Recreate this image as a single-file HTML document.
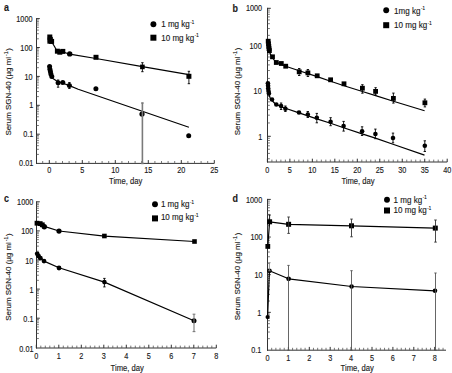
<!DOCTYPE html>
<html><head><meta charset="utf-8"><style>
html,body{margin:0;padding:0;background:#fff;}
svg{display:block;}
text{font-family:"Liberation Sans", sans-serif;fill:#1a1a1a;stroke:#1a1a1a;stroke-width:0.14px;}
</style></head><body>
<svg width="452" height="373" viewBox="0 0 452 373">
<rect width="452" height="373" fill="#fff"/>
<line x1="36.5" y1="18.1" x2="36.5" y2="163.9" stroke="#333" stroke-width="1"/>
<line x1="36.5" y1="18.6" x2="39.8" y2="18.6" stroke="#333" stroke-width="1"/>
<line x1="36.5" y1="47.5" x2="39.8" y2="47.5" stroke="#333" stroke-width="1"/>
<line x1="36.5" y1="76.4" x2="39.8" y2="76.4" stroke="#333" stroke-width="1"/>
<line x1="36.5" y1="105.29999999999998" x2="39.8" y2="105.29999999999998" stroke="#333" stroke-width="1"/>
<line x1="36.5" y1="134.2" x2="39.8" y2="134.2" stroke="#333" stroke-width="1"/>
<line x1="36.5" y1="154.40" x2="38.9" y2="154.40" stroke="#555" stroke-width="0.8"/>
<line x1="36.5" y1="149.31" x2="38.9" y2="149.31" stroke="#555" stroke-width="0.8"/>
<line x1="36.5" y1="145.70" x2="38.9" y2="145.70" stroke="#555" stroke-width="0.8"/>
<line x1="36.5" y1="142.90" x2="38.9" y2="142.90" stroke="#555" stroke-width="0.8"/>
<line x1="36.5" y1="140.61" x2="38.9" y2="140.61" stroke="#555" stroke-width="0.8"/>
<line x1="36.5" y1="138.68" x2="38.9" y2="138.68" stroke="#555" stroke-width="0.8"/>
<line x1="36.5" y1="137.00" x2="38.9" y2="137.00" stroke="#555" stroke-width="0.8"/>
<line x1="36.5" y1="135.52" x2="38.9" y2="135.52" stroke="#555" stroke-width="0.8"/>
<line x1="36.5" y1="125.50" x2="38.9" y2="125.50" stroke="#555" stroke-width="0.8"/>
<line x1="36.5" y1="120.41" x2="38.9" y2="120.41" stroke="#555" stroke-width="0.8"/>
<line x1="36.5" y1="116.80" x2="38.9" y2="116.80" stroke="#555" stroke-width="0.8"/>
<line x1="36.5" y1="114.00" x2="38.9" y2="114.00" stroke="#555" stroke-width="0.8"/>
<line x1="36.5" y1="111.71" x2="38.9" y2="111.71" stroke="#555" stroke-width="0.8"/>
<line x1="36.5" y1="109.78" x2="38.9" y2="109.78" stroke="#555" stroke-width="0.8"/>
<line x1="36.5" y1="108.10" x2="38.9" y2="108.10" stroke="#555" stroke-width="0.8"/>
<line x1="36.5" y1="106.62" x2="38.9" y2="106.62" stroke="#555" stroke-width="0.8"/>
<line x1="36.5" y1="96.60" x2="38.9" y2="96.60" stroke="#555" stroke-width="0.8"/>
<line x1="36.5" y1="91.51" x2="38.9" y2="91.51" stroke="#555" stroke-width="0.8"/>
<line x1="36.5" y1="87.90" x2="38.9" y2="87.90" stroke="#555" stroke-width="0.8"/>
<line x1="36.5" y1="85.10" x2="38.9" y2="85.10" stroke="#555" stroke-width="0.8"/>
<line x1="36.5" y1="82.81" x2="38.9" y2="82.81" stroke="#555" stroke-width="0.8"/>
<line x1="36.5" y1="80.88" x2="38.9" y2="80.88" stroke="#555" stroke-width="0.8"/>
<line x1="36.5" y1="79.20" x2="38.9" y2="79.20" stroke="#555" stroke-width="0.8"/>
<line x1="36.5" y1="77.72" x2="38.9" y2="77.72" stroke="#555" stroke-width="0.8"/>
<line x1="36.5" y1="67.70" x2="38.9" y2="67.70" stroke="#555" stroke-width="0.8"/>
<line x1="36.5" y1="62.61" x2="38.9" y2="62.61" stroke="#555" stroke-width="0.8"/>
<line x1="36.5" y1="59.00" x2="38.9" y2="59.00" stroke="#555" stroke-width="0.8"/>
<line x1="36.5" y1="56.20" x2="38.9" y2="56.20" stroke="#555" stroke-width="0.8"/>
<line x1="36.5" y1="53.91" x2="38.9" y2="53.91" stroke="#555" stroke-width="0.8"/>
<line x1="36.5" y1="51.98" x2="38.9" y2="51.98" stroke="#555" stroke-width="0.8"/>
<line x1="36.5" y1="50.30" x2="38.9" y2="50.30" stroke="#555" stroke-width="0.8"/>
<line x1="36.5" y1="48.82" x2="38.9" y2="48.82" stroke="#555" stroke-width="0.8"/>
<line x1="36.5" y1="38.80" x2="38.9" y2="38.80" stroke="#555" stroke-width="0.8"/>
<line x1="36.5" y1="33.71" x2="38.9" y2="33.71" stroke="#555" stroke-width="0.8"/>
<line x1="36.5" y1="30.10" x2="38.9" y2="30.10" stroke="#555" stroke-width="0.8"/>
<line x1="36.5" y1="27.30" x2="38.9" y2="27.30" stroke="#555" stroke-width="0.8"/>
<line x1="36.5" y1="25.01" x2="38.9" y2="25.01" stroke="#555" stroke-width="0.8"/>
<line x1="36.5" y1="23.08" x2="38.9" y2="23.08" stroke="#555" stroke-width="0.8"/>
<line x1="36.5" y1="21.40" x2="38.9" y2="21.40" stroke="#555" stroke-width="0.8"/>
<line x1="36.5" y1="19.92" x2="38.9" y2="19.92" stroke="#555" stroke-width="0.8"/>
<text transform="translate(32.5,21.75) scale(0.89,1)" text-anchor="end" font-size="8.2">1000</text>
<text transform="translate(32.5,50.65) scale(0.89,1)" text-anchor="end" font-size="8.2">100</text>
<text transform="translate(32.5,79.55) scale(0.89,1)" text-anchor="end" font-size="8.2">10</text>
<text transform="translate(33.3,108.45) scale(0.89,1)" text-anchor="end" font-size="8.2">1</text>
<text transform="translate(33.3,137.35) scale(0.89,1)" text-anchor="end" font-size="8.2">0.1</text>
<text transform="translate(33.3,166.25) scale(0.89,1)" text-anchor="end" font-size="8.2">0.01</text>
<line x1="36.0" y1="163.4" x2="214.3" y2="163.4" stroke="#333" stroke-width="1"/>
<line x1="49.30" y1="163.4" x2="49.30" y2="160.1" stroke="#333" stroke-width="1"/>
<line x1="82.30" y1="163.4" x2="82.30" y2="160.1" stroke="#333" stroke-width="1"/>
<line x1="115.30" y1="163.4" x2="115.30" y2="160.1" stroke="#333" stroke-width="1"/>
<line x1="148.30" y1="163.4" x2="148.30" y2="160.1" stroke="#333" stroke-width="1"/>
<line x1="181.30" y1="163.4" x2="181.30" y2="160.1" stroke="#333" stroke-width="1"/>
<line x1="214.30" y1="163.4" x2="214.30" y2="160.1" stroke="#333" stroke-width="1"/>
<line x1="42.70" y1="163.4" x2="42.70" y2="161.0" stroke="#555" stroke-width="0.8"/>
<line x1="55.90" y1="163.4" x2="55.90" y2="161.0" stroke="#555" stroke-width="0.8"/>
<line x1="62.50" y1="163.4" x2="62.50" y2="161.0" stroke="#555" stroke-width="0.8"/>
<line x1="69.10" y1="163.4" x2="69.10" y2="161.0" stroke="#555" stroke-width="0.8"/>
<line x1="75.70" y1="163.4" x2="75.70" y2="161.0" stroke="#555" stroke-width="0.8"/>
<line x1="88.90" y1="163.4" x2="88.90" y2="161.0" stroke="#555" stroke-width="0.8"/>
<line x1="95.50" y1="163.4" x2="95.50" y2="161.0" stroke="#555" stroke-width="0.8"/>
<line x1="102.10" y1="163.4" x2="102.10" y2="161.0" stroke="#555" stroke-width="0.8"/>
<line x1="108.70" y1="163.4" x2="108.70" y2="161.0" stroke="#555" stroke-width="0.8"/>
<line x1="121.90" y1="163.4" x2="121.90" y2="161.0" stroke="#555" stroke-width="0.8"/>
<line x1="128.50" y1="163.4" x2="128.50" y2="161.0" stroke="#555" stroke-width="0.8"/>
<line x1="135.10" y1="163.4" x2="135.10" y2="161.0" stroke="#555" stroke-width="0.8"/>
<line x1="141.70" y1="163.4" x2="141.70" y2="161.0" stroke="#555" stroke-width="0.8"/>
<line x1="154.90" y1="163.4" x2="154.90" y2="161.0" stroke="#555" stroke-width="0.8"/>
<line x1="161.50" y1="163.4" x2="161.50" y2="161.0" stroke="#555" stroke-width="0.8"/>
<line x1="168.10" y1="163.4" x2="168.10" y2="161.0" stroke="#555" stroke-width="0.8"/>
<line x1="174.70" y1="163.4" x2="174.70" y2="161.0" stroke="#555" stroke-width="0.8"/>
<line x1="187.90" y1="163.4" x2="187.90" y2="161.0" stroke="#555" stroke-width="0.8"/>
<line x1="194.50" y1="163.4" x2="194.50" y2="161.0" stroke="#555" stroke-width="0.8"/>
<line x1="201.10" y1="163.4" x2="201.10" y2="161.0" stroke="#555" stroke-width="0.8"/>
<line x1="207.70" y1="163.4" x2="207.70" y2="161.0" stroke="#555" stroke-width="0.8"/>
<text transform="translate(49.30,172.6) scale(0.89,1)" text-anchor="middle" font-size="8.2">0</text>
<text transform="translate(82.30,172.6) scale(0.89,1)" text-anchor="middle" font-size="8.2">5</text>
<text transform="translate(115.30,172.6) scale(0.89,1)" text-anchor="middle" font-size="8.2">10</text>
<text transform="translate(148.30,172.6) scale(0.89,1)" text-anchor="middle" font-size="8.2">15</text>
<text transform="translate(181.30,172.6) scale(0.89,1)" text-anchor="middle" font-size="8.2">20</text>
<text transform="translate(214.30,172.6) scale(0.89,1)" text-anchor="middle" font-size="8.2">25</text>
<text transform="translate(4.0,11.1) scale(0.86,1)" font-size="10.4" font-weight="bold">a</text>
<text transform="translate(11.0,135.6) rotate(-90) scale(1,0.92)" font-size="7.95">Serum SGN-40 (µg ml<tspan font-size="5.2" dx="0.9" dy="-3.4">-1</tspan><tspan dx="0.7" dy="3.4">)</tspan></text>
<text transform="translate(109,184.0) scale(0.91,1)" font-size="8.4">Time, day</text>
<circle cx="153.4" cy="24.3" r="2.95" fill="#000"/>
<rect x="150.40" y="34.70" width="6.0" height="6.0" fill="#000"/>
<text transform="translate(161.2,27.3) scale(0.915,1)" font-size="8.8">1 mg kg<tspan font-size="4.8" dx="0.6" dy="-3.4">-1</tspan></text>
<text transform="translate(161.2,40.5) scale(0.915,1)" font-size="8.8">10 mg kg<tspan font-size="4.8" dx="0.6" dy="-3.4">-1</tspan></text>
<polyline points="50.00,37.00 51.50,41.50 54.50,46.50 57.00,51.00 60.00,52.00 64.00,52.30 69.70,54.20 96.00,58.50 142.40,66.60 188.90,74.60" fill="none" stroke="#000" stroke-width="1.2" stroke-linejoin="round"/>
<rect x="47.30" y="34.50" width="5" height="5" fill="#000"/>
<rect x="47.80" y="36.90" width="5" height="5" fill="#000"/>
<rect x="47.40" y="38.70" width="5" height="5" fill="#000"/>
<rect x="49.10" y="38.90" width="5" height="5" fill="#000"/>
<rect x="54.90" y="48.70" width="5" height="5" fill="#000"/>
<rect x="57.30" y="49.70" width="5" height="5" fill="#000"/>
<rect x="60.30" y="48.90" width="5" height="5" fill="#000"/>
<rect x="93.50" y="54.80" width="5" height="5" fill="#000"/>
<rect x="186.40" y="73.80" width="5" height="5" fill="#000"/>
<circle cx="69.7" cy="53.9" r="2.7" fill="#000"/>
<rect x="140.10" y="64.60" width="4.6" height="4.6" fill="#000"/>
<line x1="142.4" y1="62.7" x2="142.4" y2="71.7" stroke="#000" stroke-width="0.9"/>
<line x1="141.20000000000002" y1="62.7" x2="143.6" y2="62.7" stroke="#000" stroke-width="0.9"/>
<line x1="141.20000000000002" y1="71.7" x2="143.6" y2="71.7" stroke="#000" stroke-width="0.9"/>
<line x1="188.9" y1="71.3" x2="188.9" y2="83.7" stroke="#000" stroke-width="0.9"/>
<line x1="187.70000000000002" y1="71.3" x2="190.1" y2="71.3" stroke="#000" stroke-width="0.9"/>
<line x1="187.70000000000002" y1="83.7" x2="190.1" y2="83.7" stroke="#000" stroke-width="0.9"/>
<polyline points="49.50,66.00 50.00,70.00 51.00,74.50 52.50,78.30 56.00,80.50 60.00,82.30 63.00,83.20 69.40,85.60 78.20,89.20 188.90,127.20" fill="none" stroke="#000" stroke-width="1.2" stroke-linejoin="round"/>
<circle cx="49.6" cy="66.6" r="2.5" fill="#000"/>
<circle cx="49.9" cy="69.2" r="2.5" fill="#000"/>
<circle cx="50.4" cy="71.6" r="2.5" fill="#000"/>
<circle cx="50.9" cy="74" r="2.5" fill="#000"/>
<circle cx="51.8" cy="76.4" r="2.5" fill="#000"/>
<circle cx="58.1" cy="82.7" r="2.5" fill="#000"/>
<circle cx="62.8" cy="82.5" r="2.5" fill="#000"/>
<circle cx="69.4" cy="85.6" r="2.5" fill="#000"/>
<circle cx="95.9" cy="88.7" r="2.5" fill="#000"/>
<circle cx="188.7" cy="135.8" r="2.5" fill="#000"/>
<line x1="58.1" y1="80" x2="58.1" y2="87.2" stroke="#000" stroke-width="0.9"/>
<line x1="56.9" y1="80" x2="59.300000000000004" y2="80" stroke="#000" stroke-width="0.9"/>
<line x1="56.9" y1="87.2" x2="59.300000000000004" y2="87.2" stroke="#000" stroke-width="0.9"/>
<line x1="69.4" y1="82.5" x2="69.4" y2="88.5" stroke="#000" stroke-width="0.9"/>
<line x1="68.2" y1="82.5" x2="70.60000000000001" y2="82.5" stroke="#000" stroke-width="0.9"/>
<line x1="68.2" y1="88.5" x2="70.60000000000001" y2="88.5" stroke="#000" stroke-width="0.9"/>
<circle cx="142" cy="114.1" r="2.6" fill="#000"/>
<line x1="142.4" y1="103" x2="142.4" y2="163.4" stroke="#7a7a7a" stroke-width="1.6"/>
<line x1="141.20000000000002" y1="103" x2="143.6" y2="103" stroke="#7a7a7a" stroke-width="1.6"/>
<line x1="141.20000000000002" y1="163.4" x2="143.6" y2="163.4" stroke="#7a7a7a" stroke-width="1.6"/>
<line x1="267.5" y1="7.800000000000001" x2="267.5" y2="162.5" stroke="#333" stroke-width="1"/>
<line x1="267.5" y1="8.3" x2="270.8" y2="8.3" stroke="#333" stroke-width="1"/>
<line x1="267.5" y1="47.0" x2="270.8" y2="47.0" stroke="#333" stroke-width="1"/>
<line x1="267.5" y1="92.0" x2="270.8" y2="92.0" stroke="#333" stroke-width="1"/>
<line x1="267.5" y1="136.3" x2="270.8" y2="136.3" stroke="#333" stroke-width="1"/>
<line x1="267.5" y1="158.78" x2="269.9" y2="158.78" stroke="#555" stroke-width="0.8"/>
<line x1="267.5" y1="153.41" x2="269.9" y2="153.41" stroke="#555" stroke-width="0.8"/>
<line x1="267.5" y1="149.24" x2="269.9" y2="149.24" stroke="#555" stroke-width="0.8"/>
<line x1="267.5" y1="145.84" x2="269.9" y2="145.84" stroke="#555" stroke-width="0.8"/>
<line x1="267.5" y1="142.96" x2="269.9" y2="142.96" stroke="#555" stroke-width="0.8"/>
<line x1="267.5" y1="140.47" x2="269.9" y2="140.47" stroke="#555" stroke-width="0.8"/>
<line x1="267.5" y1="138.27" x2="269.9" y2="138.27" stroke="#555" stroke-width="0.8"/>
<line x1="267.5" y1="122.96" x2="269.9" y2="122.96" stroke="#555" stroke-width="0.8"/>
<line x1="267.5" y1="115.16" x2="269.9" y2="115.16" stroke="#555" stroke-width="0.8"/>
<line x1="267.5" y1="109.63" x2="269.9" y2="109.63" stroke="#555" stroke-width="0.8"/>
<line x1="267.5" y1="105.34" x2="269.9" y2="105.34" stroke="#555" stroke-width="0.8"/>
<line x1="267.5" y1="101.83" x2="269.9" y2="101.83" stroke="#555" stroke-width="0.8"/>
<line x1="267.5" y1="98.86" x2="269.9" y2="98.86" stroke="#555" stroke-width="0.8"/>
<line x1="267.5" y1="96.29" x2="269.9" y2="96.29" stroke="#555" stroke-width="0.8"/>
<line x1="267.5" y1="94.03" x2="269.9" y2="94.03" stroke="#555" stroke-width="0.8"/>
<line x1="267.5" y1="78.45" x2="269.9" y2="78.45" stroke="#555" stroke-width="0.8"/>
<line x1="267.5" y1="70.53" x2="269.9" y2="70.53" stroke="#555" stroke-width="0.8"/>
<line x1="267.5" y1="64.91" x2="269.9" y2="64.91" stroke="#555" stroke-width="0.8"/>
<line x1="267.5" y1="60.55" x2="269.9" y2="60.55" stroke="#555" stroke-width="0.8"/>
<line x1="267.5" y1="56.98" x2="269.9" y2="56.98" stroke="#555" stroke-width="0.8"/>
<line x1="267.5" y1="53.97" x2="269.9" y2="53.97" stroke="#555" stroke-width="0.8"/>
<line x1="267.5" y1="51.36" x2="269.9" y2="51.36" stroke="#555" stroke-width="0.8"/>
<line x1="267.5" y1="49.06" x2="269.9" y2="49.06" stroke="#555" stroke-width="0.8"/>
<line x1="267.5" y1="35.35" x2="269.9" y2="35.35" stroke="#555" stroke-width="0.8"/>
<line x1="267.5" y1="28.54" x2="269.9" y2="28.54" stroke="#555" stroke-width="0.8"/>
<line x1="267.5" y1="23.70" x2="269.9" y2="23.70" stroke="#555" stroke-width="0.8"/>
<line x1="267.5" y1="19.95" x2="269.9" y2="19.95" stroke="#555" stroke-width="0.8"/>
<line x1="267.5" y1="16.89" x2="269.9" y2="16.89" stroke="#555" stroke-width="0.8"/>
<line x1="267.5" y1="14.29" x2="269.9" y2="14.29" stroke="#555" stroke-width="0.8"/>
<line x1="267.5" y1="12.05" x2="269.9" y2="12.05" stroke="#555" stroke-width="0.8"/>
<line x1="267.5" y1="10.07" x2="269.9" y2="10.07" stroke="#555" stroke-width="0.8"/>
<text transform="translate(262.09999999999997,11.45) scale(0.89,1)" text-anchor="end" font-size="8.2">1000</text>
<text transform="translate(261.7,48.65) scale(0.89,1)" text-anchor="end" font-size="8.2">100</text>
<text transform="translate(261.7,93.65) scale(0.89,1)" text-anchor="end" font-size="8.2">10</text>
<text transform="translate(262.4,139.55) scale(0.89,1)" text-anchor="end" font-size="8.2">1</text>
<line x1="267.0" y1="162.0" x2="447.2" y2="162.0" stroke="#333" stroke-width="1"/>
<line x1="267.40" y1="162.0" x2="267.40" y2="158.7" stroke="#333" stroke-width="1"/>
<line x1="289.88" y1="162.0" x2="289.88" y2="158.7" stroke="#333" stroke-width="1"/>
<line x1="312.35" y1="162.0" x2="312.35" y2="158.7" stroke="#333" stroke-width="1"/>
<line x1="334.82" y1="162.0" x2="334.82" y2="158.7" stroke="#333" stroke-width="1"/>
<line x1="357.30" y1="162.0" x2="357.30" y2="158.7" stroke="#333" stroke-width="1"/>
<line x1="379.77" y1="162.0" x2="379.77" y2="158.7" stroke="#333" stroke-width="1"/>
<line x1="402.25" y1="162.0" x2="402.25" y2="158.7" stroke="#333" stroke-width="1"/>
<line x1="424.73" y1="162.0" x2="424.73" y2="158.7" stroke="#333" stroke-width="1"/>
<line x1="447.20" y1="162.0" x2="447.20" y2="158.7" stroke="#333" stroke-width="1"/>
<line x1="271.89" y1="162.0" x2="271.89" y2="159.6" stroke="#555" stroke-width="0.8"/>
<line x1="276.39" y1="162.0" x2="276.39" y2="159.6" stroke="#555" stroke-width="0.8"/>
<line x1="280.88" y1="162.0" x2="280.88" y2="159.6" stroke="#555" stroke-width="0.8"/>
<line x1="285.38" y1="162.0" x2="285.38" y2="159.6" stroke="#555" stroke-width="0.8"/>
<line x1="294.37" y1="162.0" x2="294.37" y2="159.6" stroke="#555" stroke-width="0.8"/>
<line x1="298.86" y1="162.0" x2="298.86" y2="159.6" stroke="#555" stroke-width="0.8"/>
<line x1="303.36" y1="162.0" x2="303.36" y2="159.6" stroke="#555" stroke-width="0.8"/>
<line x1="307.85" y1="162.0" x2="307.85" y2="159.6" stroke="#555" stroke-width="0.8"/>
<line x1="316.84" y1="162.0" x2="316.84" y2="159.6" stroke="#555" stroke-width="0.8"/>
<line x1="321.34" y1="162.0" x2="321.34" y2="159.6" stroke="#555" stroke-width="0.8"/>
<line x1="325.83" y1="162.0" x2="325.83" y2="159.6" stroke="#555" stroke-width="0.8"/>
<line x1="330.33" y1="162.0" x2="330.33" y2="159.6" stroke="#555" stroke-width="0.8"/>
<line x1="339.32" y1="162.0" x2="339.32" y2="159.6" stroke="#555" stroke-width="0.8"/>
<line x1="343.81" y1="162.0" x2="343.81" y2="159.6" stroke="#555" stroke-width="0.8"/>
<line x1="348.31" y1="162.0" x2="348.31" y2="159.6" stroke="#555" stroke-width="0.8"/>
<line x1="352.80" y1="162.0" x2="352.80" y2="159.6" stroke="#555" stroke-width="0.8"/>
<line x1="361.79" y1="162.0" x2="361.79" y2="159.6" stroke="#555" stroke-width="0.8"/>
<line x1="366.29" y1="162.0" x2="366.29" y2="159.6" stroke="#555" stroke-width="0.8"/>
<line x1="370.78" y1="162.0" x2="370.78" y2="159.6" stroke="#555" stroke-width="0.8"/>
<line x1="375.28" y1="162.0" x2="375.28" y2="159.6" stroke="#555" stroke-width="0.8"/>
<line x1="384.27" y1="162.0" x2="384.27" y2="159.6" stroke="#555" stroke-width="0.8"/>
<line x1="388.76" y1="162.0" x2="388.76" y2="159.6" stroke="#555" stroke-width="0.8"/>
<line x1="393.26" y1="162.0" x2="393.26" y2="159.6" stroke="#555" stroke-width="0.8"/>
<line x1="397.75" y1="162.0" x2="397.75" y2="159.6" stroke="#555" stroke-width="0.8"/>
<line x1="406.75" y1="162.0" x2="406.75" y2="159.6" stroke="#555" stroke-width="0.8"/>
<line x1="411.24" y1="162.0" x2="411.24" y2="159.6" stroke="#555" stroke-width="0.8"/>
<line x1="415.74" y1="162.0" x2="415.74" y2="159.6" stroke="#555" stroke-width="0.8"/>
<line x1="420.23" y1="162.0" x2="420.23" y2="159.6" stroke="#555" stroke-width="0.8"/>
<line x1="429.22" y1="162.0" x2="429.22" y2="159.6" stroke="#555" stroke-width="0.8"/>
<line x1="433.71" y1="162.0" x2="433.71" y2="159.6" stroke="#555" stroke-width="0.8"/>
<line x1="438.21" y1="162.0" x2="438.21" y2="159.6" stroke="#555" stroke-width="0.8"/>
<line x1="442.70" y1="162.0" x2="442.70" y2="159.6" stroke="#555" stroke-width="0.8"/>
<text transform="translate(267.40,172.5) scale(0.89,1)" text-anchor="middle" font-size="8.2">0</text>
<text transform="translate(289.88,172.5) scale(0.89,1)" text-anchor="middle" font-size="8.2">5</text>
<text transform="translate(312.35,172.5) scale(0.89,1)" text-anchor="middle" font-size="8.2">10</text>
<text transform="translate(334.82,172.5) scale(0.89,1)" text-anchor="middle" font-size="8.2">15</text>
<text transform="translate(357.30,172.5) scale(0.89,1)" text-anchor="middle" font-size="8.2">20</text>
<text transform="translate(379.77,172.5) scale(0.89,1)" text-anchor="middle" font-size="8.2">25</text>
<text transform="translate(402.25,172.5) scale(0.89,1)" text-anchor="middle" font-size="8.2">30</text>
<text transform="translate(424.73,172.5) scale(0.89,1)" text-anchor="middle" font-size="8.2">35</text>
<text transform="translate(447.20,172.5) scale(0.89,1)" text-anchor="middle" font-size="8.2">40</text>
<text transform="translate(232.6,11.7) scale(0.86,1)" font-size="10.4" font-weight="bold">b</text>
<text transform="translate(239.8,135.2) rotate(-90) scale(1,0.92)" font-size="7.95">Serum SGN-40 (µg ml<tspan font-size="5.2" dx="0.9" dy="-3.4">-1</tspan><tspan dx="0.7" dy="3.4">)</tspan></text>
<text transform="translate(341.4,184.4) scale(0.91,1)" font-size="8.4">Time, day</text>
<circle cx="386.2" cy="10.3" r="2.95" fill="#000"/>
<rect x="383.20" y="22.20" width="6.0" height="6.0" fill="#000"/>
<text transform="translate(394.1,13.8) scale(0.915,1)" font-size="8.8">1mg kg<tspan font-size="4.8" dx="0.6" dy="-3.4">-1</tspan></text>
<text transform="translate(394.1,28.0) scale(0.915,1)" font-size="8.8">10 mg kg<tspan font-size="4.8" dx="0.6" dy="-3.4">-1</tspan></text>
<polyline points="268.20,39.00 268.60,46.00 269.50,52.00 271.50,56.50 274.50,60.50 279.00,63.50 285.70,66.20 299.20,70.70 317.20,76.60 330.60,81.20 344.00,85.80 362.40,91.50 375.60,95.60 393.40,101.30 424.60,110.80" fill="none" stroke="#000" stroke-width="1.2" stroke-linejoin="round"/>
<rect x="265.80" y="38.80" width="4.8" height="4.8" fill="#000"/>
<rect x="266.10" y="41.40" width="4.8" height="4.8" fill="#000"/>
<rect x="266.40" y="44.00" width="4.8" height="4.8" fill="#000"/>
<rect x="266.60" y="46.20" width="4.8" height="4.8" fill="#000"/>
<rect x="267.00" y="48.20" width="4.8" height="4.8" fill="#000"/>
<rect x="270.10" y="54.40" width="4.8" height="4.8" fill="#000"/>
<rect x="273.90" y="60.10" width="4.8" height="4.8" fill="#000"/>
<rect x="278.90" y="61.10" width="4.8" height="4.8" fill="#000"/>
<rect x="283.30" y="63.80" width="4.8" height="4.8" fill="#000"/>
<rect x="296.80" y="69.40" width="4.8" height="4.8" fill="#000"/>
<rect x="305.50" y="70.50" width="4.8" height="4.8" fill="#000"/>
<rect x="314.80" y="73.40" width="4.8" height="4.8" fill="#000"/>
<rect x="328.20" y="77.40" width="4.8" height="4.8" fill="#000"/>
<rect x="341.60" y="81.40" width="4.8" height="4.8" fill="#000"/>
<rect x="360.00" y="85.80" width="4.8" height="4.8" fill="#000"/>
<rect x="373.20" y="89.00" width="4.8" height="4.8" fill="#000"/>
<rect x="391.00" y="96.00" width="4.8" height="4.8" fill="#000"/>
<rect x="422.50" y="100.40" width="4.8" height="4.8" fill="#000"/>
<line x1="299.2" y1="68.5" x2="299.2" y2="75.5" stroke="#000" stroke-width="0.9"/>
<line x1="298.0" y1="68.5" x2="300.4" y2="68.5" stroke="#000" stroke-width="0.9"/>
<line x1="298.0" y1="75.5" x2="300.4" y2="75.5" stroke="#000" stroke-width="0.9"/>
<line x1="307.9" y1="69.5" x2="307.9" y2="76.5" stroke="#000" stroke-width="0.9"/>
<line x1="306.7" y1="69.5" x2="309.09999999999997" y2="69.5" stroke="#000" stroke-width="0.9"/>
<line x1="306.7" y1="76.5" x2="309.09999999999997" y2="76.5" stroke="#000" stroke-width="0.9"/>
<line x1="362.4" y1="84.7" x2="362.4" y2="93.2" stroke="#000" stroke-width="0.9"/>
<line x1="361.2" y1="84.7" x2="363.59999999999997" y2="84.7" stroke="#000" stroke-width="0.9"/>
<line x1="361.2" y1="93.2" x2="363.59999999999997" y2="93.2" stroke="#000" stroke-width="0.9"/>
<line x1="375.6" y1="87.7" x2="375.6" y2="95" stroke="#000" stroke-width="0.9"/>
<line x1="374.40000000000003" y1="87.7" x2="376.8" y2="87.7" stroke="#000" stroke-width="0.9"/>
<line x1="374.40000000000003" y1="95" x2="376.8" y2="95" stroke="#000" stroke-width="0.9"/>
<line x1="393.4" y1="93.1" x2="393.4" y2="103.1" stroke="#000" stroke-width="0.9"/>
<line x1="392.2" y1="93.1" x2="394.59999999999997" y2="93.1" stroke="#000" stroke-width="0.9"/>
<line x1="392.2" y1="103.1" x2="394.59999999999997" y2="103.1" stroke="#000" stroke-width="0.9"/>
<line x1="424.9" y1="99.1" x2="424.9" y2="106.9" stroke="#000" stroke-width="0.9"/>
<line x1="423.7" y1="99.1" x2="426.09999999999997" y2="99.1" stroke="#000" stroke-width="0.9"/>
<line x1="423.7" y1="106.9" x2="426.09999999999997" y2="106.9" stroke="#000" stroke-width="0.9"/>
<polyline points="267.60,82.00 268.00,88.00 268.60,93.00 270.00,97.50 272.00,100.50 275.40,104.00 281.00,106.80 285.40,108.30 299.00,112.90 316.80,118.90 330.60,123.30 343.60,127.80 362.10,133.90 375.40,138.10 393.00,144.20 424.50,155.10" fill="none" stroke="#000" stroke-width="1.2" stroke-linejoin="round"/>
<circle cx="267.9" cy="83.2" r="2.3" fill="#000"/>
<circle cx="268.1" cy="85.8" r="2.3" fill="#000"/>
<circle cx="268.2" cy="88.4" r="2.3" fill="#000"/>
<circle cx="268.5" cy="91" r="2.3" fill="#000"/>
<circle cx="268.9" cy="93.4" r="2.3" fill="#000"/>
<circle cx="272" cy="99.5" r="2.3" fill="#000"/>
<circle cx="276.3" cy="104.5" r="2.3" fill="#000"/>
<circle cx="281.1" cy="106.1" r="2.3" fill="#000"/>
<circle cx="285.4" cy="108.8" r="2.3" fill="#000"/>
<circle cx="299" cy="112.5" r="2.3" fill="#000"/>
<circle cx="307.8" cy="114.5" r="2.3" fill="#000"/>
<circle cx="316.8" cy="117.7" r="2.3" fill="#000"/>
<circle cx="330.6" cy="121.8" r="2.3" fill="#000"/>
<circle cx="343.6" cy="126.1" r="2.3" fill="#000"/>
<circle cx="362.1" cy="131.2" r="2.3" fill="#000"/>
<circle cx="375.4" cy="134" r="2.3" fill="#000"/>
<circle cx="393" cy="138" r="2.3" fill="#000"/>
<circle cx="424.8" cy="145.8" r="2.3" fill="#000"/>
<line x1="281.1" y1="103" x2="281.1" y2="109.5" stroke="#000" stroke-width="0.9"/>
<line x1="279.90000000000003" y1="103" x2="282.3" y2="103" stroke="#000" stroke-width="0.9"/>
<line x1="279.90000000000003" y1="109.5" x2="282.3" y2="109.5" stroke="#000" stroke-width="0.9"/>
<line x1="285.4" y1="106" x2="285.4" y2="111.5" stroke="#000" stroke-width="0.9"/>
<line x1="284.2" y1="106" x2="286.59999999999997" y2="106" stroke="#000" stroke-width="0.9"/>
<line x1="284.2" y1="111.5" x2="286.59999999999997" y2="111.5" stroke="#000" stroke-width="0.9"/>
<line x1="307.8" y1="111.5" x2="307.8" y2="117.5" stroke="#000" stroke-width="0.9"/>
<line x1="306.6" y1="111.5" x2="309.0" y2="111.5" stroke="#000" stroke-width="0.9"/>
<line x1="306.6" y1="117.5" x2="309.0" y2="117.5" stroke="#000" stroke-width="0.9"/>
<line x1="316.8" y1="113.4" x2="316.8" y2="122.8" stroke="#000" stroke-width="0.9"/>
<line x1="315.6" y1="113.4" x2="318.0" y2="113.4" stroke="#000" stroke-width="0.9"/>
<line x1="315.6" y1="122.8" x2="318.0" y2="122.8" stroke="#000" stroke-width="0.9"/>
<line x1="330.6" y1="117.7" x2="330.6" y2="125.7" stroke="#000" stroke-width="0.9"/>
<line x1="329.40000000000003" y1="117.7" x2="331.8" y2="117.7" stroke="#000" stroke-width="0.9"/>
<line x1="329.40000000000003" y1="125.7" x2="331.8" y2="125.7" stroke="#000" stroke-width="0.9"/>
<line x1="343.6" y1="121.4" x2="343.6" y2="131.1" stroke="#000" stroke-width="0.9"/>
<line x1="342.40000000000003" y1="121.4" x2="344.8" y2="121.4" stroke="#000" stroke-width="0.9"/>
<line x1="342.40000000000003" y1="131.1" x2="344.8" y2="131.1" stroke="#000" stroke-width="0.9"/>
<line x1="362.1" y1="126.8" x2="362.1" y2="135.5" stroke="#000" stroke-width="0.9"/>
<line x1="360.90000000000003" y1="126.8" x2="363.3" y2="126.8" stroke="#000" stroke-width="0.9"/>
<line x1="360.90000000000003" y1="135.5" x2="363.3" y2="135.5" stroke="#000" stroke-width="0.9"/>
<line x1="375.4" y1="129.1" x2="375.4" y2="138.7" stroke="#000" stroke-width="0.9"/>
<line x1="374.2" y1="129.1" x2="376.59999999999997" y2="129.1" stroke="#000" stroke-width="0.9"/>
<line x1="374.2" y1="138.7" x2="376.59999999999997" y2="138.7" stroke="#000" stroke-width="0.9"/>
<line x1="393" y1="133.1" x2="393" y2="142.8" stroke="#000" stroke-width="0.9"/>
<line x1="391.8" y1="133.1" x2="394.2" y2="133.1" stroke="#000" stroke-width="0.9"/>
<line x1="391.8" y1="142.8" x2="394.2" y2="142.8" stroke="#000" stroke-width="0.9"/>
<line x1="424.8" y1="140.8" x2="424.8" y2="151.5" stroke="#000" stroke-width="0.9"/>
<line x1="423.6" y1="140.8" x2="426.0" y2="140.8" stroke="#000" stroke-width="0.9"/>
<line x1="423.6" y1="151.5" x2="426.0" y2="151.5" stroke="#000" stroke-width="0.9"/>
<line x1="36.5" y1="201.3" x2="36.5" y2="348.5" stroke="#333" stroke-width="1"/>
<line x1="36.5" y1="201.8" x2="39.8" y2="201.8" stroke="#333" stroke-width="1"/>
<line x1="36.5" y1="230.9" x2="39.8" y2="230.9" stroke="#333" stroke-width="1"/>
<line x1="36.5" y1="260.0" x2="39.8" y2="260.0" stroke="#333" stroke-width="1"/>
<line x1="36.5" y1="289.1" x2="39.8" y2="289.1" stroke="#333" stroke-width="1"/>
<line x1="36.5" y1="318.20000000000005" x2="39.8" y2="318.20000000000005" stroke="#333" stroke-width="1"/>
<line x1="36.5" y1="338.54" x2="38.9" y2="338.54" stroke="#555" stroke-width="0.8"/>
<line x1="36.5" y1="333.42" x2="38.9" y2="333.42" stroke="#555" stroke-width="0.8"/>
<line x1="36.5" y1="329.78" x2="38.9" y2="329.78" stroke="#555" stroke-width="0.8"/>
<line x1="36.5" y1="326.96" x2="38.9" y2="326.96" stroke="#555" stroke-width="0.8"/>
<line x1="36.5" y1="324.66" x2="38.9" y2="324.66" stroke="#555" stroke-width="0.8"/>
<line x1="36.5" y1="322.71" x2="38.9" y2="322.71" stroke="#555" stroke-width="0.8"/>
<line x1="36.5" y1="321.02" x2="38.9" y2="321.02" stroke="#555" stroke-width="0.8"/>
<line x1="36.5" y1="319.53" x2="38.9" y2="319.53" stroke="#555" stroke-width="0.8"/>
<line x1="36.5" y1="309.44" x2="38.9" y2="309.44" stroke="#555" stroke-width="0.8"/>
<line x1="36.5" y1="304.32" x2="38.9" y2="304.32" stroke="#555" stroke-width="0.8"/>
<line x1="36.5" y1="300.68" x2="38.9" y2="300.68" stroke="#555" stroke-width="0.8"/>
<line x1="36.5" y1="297.86" x2="38.9" y2="297.86" stroke="#555" stroke-width="0.8"/>
<line x1="36.5" y1="295.56" x2="38.9" y2="295.56" stroke="#555" stroke-width="0.8"/>
<line x1="36.5" y1="293.61" x2="38.9" y2="293.61" stroke="#555" stroke-width="0.8"/>
<line x1="36.5" y1="291.92" x2="38.9" y2="291.92" stroke="#555" stroke-width="0.8"/>
<line x1="36.5" y1="290.43" x2="38.9" y2="290.43" stroke="#555" stroke-width="0.8"/>
<line x1="36.5" y1="280.34" x2="38.9" y2="280.34" stroke="#555" stroke-width="0.8"/>
<line x1="36.5" y1="275.22" x2="38.9" y2="275.22" stroke="#555" stroke-width="0.8"/>
<line x1="36.5" y1="271.58" x2="38.9" y2="271.58" stroke="#555" stroke-width="0.8"/>
<line x1="36.5" y1="268.76" x2="38.9" y2="268.76" stroke="#555" stroke-width="0.8"/>
<line x1="36.5" y1="266.46" x2="38.9" y2="266.46" stroke="#555" stroke-width="0.8"/>
<line x1="36.5" y1="264.51" x2="38.9" y2="264.51" stroke="#555" stroke-width="0.8"/>
<line x1="36.5" y1="262.82" x2="38.9" y2="262.82" stroke="#555" stroke-width="0.8"/>
<line x1="36.5" y1="261.33" x2="38.9" y2="261.33" stroke="#555" stroke-width="0.8"/>
<line x1="36.5" y1="251.24" x2="38.9" y2="251.24" stroke="#555" stroke-width="0.8"/>
<line x1="36.5" y1="246.12" x2="38.9" y2="246.12" stroke="#555" stroke-width="0.8"/>
<line x1="36.5" y1="242.48" x2="38.9" y2="242.48" stroke="#555" stroke-width="0.8"/>
<line x1="36.5" y1="239.66" x2="38.9" y2="239.66" stroke="#555" stroke-width="0.8"/>
<line x1="36.5" y1="237.36" x2="38.9" y2="237.36" stroke="#555" stroke-width="0.8"/>
<line x1="36.5" y1="235.41" x2="38.9" y2="235.41" stroke="#555" stroke-width="0.8"/>
<line x1="36.5" y1="233.72" x2="38.9" y2="233.72" stroke="#555" stroke-width="0.8"/>
<line x1="36.5" y1="232.23" x2="38.9" y2="232.23" stroke="#555" stroke-width="0.8"/>
<line x1="36.5" y1="222.14" x2="38.9" y2="222.14" stroke="#555" stroke-width="0.8"/>
<line x1="36.5" y1="217.02" x2="38.9" y2="217.02" stroke="#555" stroke-width="0.8"/>
<line x1="36.5" y1="213.38" x2="38.9" y2="213.38" stroke="#555" stroke-width="0.8"/>
<line x1="36.5" y1="210.56" x2="38.9" y2="210.56" stroke="#555" stroke-width="0.8"/>
<line x1="36.5" y1="208.26" x2="38.9" y2="208.26" stroke="#555" stroke-width="0.8"/>
<line x1="36.5" y1="206.31" x2="38.9" y2="206.31" stroke="#555" stroke-width="0.8"/>
<line x1="36.5" y1="204.62" x2="38.9" y2="204.62" stroke="#555" stroke-width="0.8"/>
<line x1="36.5" y1="203.13" x2="38.9" y2="203.13" stroke="#555" stroke-width="0.8"/>
<text transform="translate(33.3,204.95) scale(0.89,1)" text-anchor="end" font-size="8.2">1000</text>
<text transform="translate(33.3,234.30) scale(0.89,1)" text-anchor="end" font-size="8.2">100</text>
<text transform="translate(33.3,263.65) scale(0.89,1)" text-anchor="end" font-size="8.2">10</text>
<text transform="translate(33.5,293.00) scale(0.89,1)" text-anchor="end" font-size="8.2">1</text>
<text transform="translate(33.5,322.35) scale(0.89,1)" text-anchor="end" font-size="8.2">0.1</text>
<text transform="translate(33.5,351.70) scale(0.89,1)" text-anchor="end" font-size="8.2">0.01</text>
<line x1="36.0" y1="348.0" x2="216.3" y2="348.0" stroke="#333" stroke-width="1"/>
<line x1="36.30" y1="348.0" x2="36.30" y2="344.7" stroke="#333" stroke-width="1"/>
<line x1="58.80" y1="348.0" x2="58.80" y2="344.7" stroke="#333" stroke-width="1"/>
<line x1="81.30" y1="348.0" x2="81.30" y2="344.7" stroke="#333" stroke-width="1"/>
<line x1="103.80" y1="348.0" x2="103.80" y2="344.7" stroke="#333" stroke-width="1"/>
<line x1="126.30" y1="348.0" x2="126.30" y2="344.7" stroke="#333" stroke-width="1"/>
<line x1="148.80" y1="348.0" x2="148.80" y2="344.7" stroke="#333" stroke-width="1"/>
<line x1="171.30" y1="348.0" x2="171.30" y2="344.7" stroke="#333" stroke-width="1"/>
<line x1="193.80" y1="348.0" x2="193.80" y2="344.7" stroke="#333" stroke-width="1"/>
<line x1="216.30" y1="348.0" x2="216.30" y2="344.7" stroke="#333" stroke-width="1"/>
<line x1="40.80" y1="348.0" x2="40.80" y2="345.6" stroke="#555" stroke-width="0.8"/>
<line x1="45.30" y1="348.0" x2="45.30" y2="345.6" stroke="#555" stroke-width="0.8"/>
<line x1="49.80" y1="348.0" x2="49.80" y2="345.6" stroke="#555" stroke-width="0.8"/>
<line x1="54.30" y1="348.0" x2="54.30" y2="345.6" stroke="#555" stroke-width="0.8"/>
<line x1="63.30" y1="348.0" x2="63.30" y2="345.6" stroke="#555" stroke-width="0.8"/>
<line x1="67.80" y1="348.0" x2="67.80" y2="345.6" stroke="#555" stroke-width="0.8"/>
<line x1="72.30" y1="348.0" x2="72.30" y2="345.6" stroke="#555" stroke-width="0.8"/>
<line x1="76.80" y1="348.0" x2="76.80" y2="345.6" stroke="#555" stroke-width="0.8"/>
<line x1="85.80" y1="348.0" x2="85.80" y2="345.6" stroke="#555" stroke-width="0.8"/>
<line x1="90.30" y1="348.0" x2="90.30" y2="345.6" stroke="#555" stroke-width="0.8"/>
<line x1="94.80" y1="348.0" x2="94.80" y2="345.6" stroke="#555" stroke-width="0.8"/>
<line x1="99.30" y1="348.0" x2="99.30" y2="345.6" stroke="#555" stroke-width="0.8"/>
<line x1="108.30" y1="348.0" x2="108.30" y2="345.6" stroke="#555" stroke-width="0.8"/>
<line x1="112.80" y1="348.0" x2="112.80" y2="345.6" stroke="#555" stroke-width="0.8"/>
<line x1="117.30" y1="348.0" x2="117.30" y2="345.6" stroke="#555" stroke-width="0.8"/>
<line x1="121.80" y1="348.0" x2="121.80" y2="345.6" stroke="#555" stroke-width="0.8"/>
<line x1="130.80" y1="348.0" x2="130.80" y2="345.6" stroke="#555" stroke-width="0.8"/>
<line x1="135.30" y1="348.0" x2="135.30" y2="345.6" stroke="#555" stroke-width="0.8"/>
<line x1="139.80" y1="348.0" x2="139.80" y2="345.6" stroke="#555" stroke-width="0.8"/>
<line x1="144.30" y1="348.0" x2="144.30" y2="345.6" stroke="#555" stroke-width="0.8"/>
<line x1="153.30" y1="348.0" x2="153.30" y2="345.6" stroke="#555" stroke-width="0.8"/>
<line x1="157.80" y1="348.0" x2="157.80" y2="345.6" stroke="#555" stroke-width="0.8"/>
<line x1="162.30" y1="348.0" x2="162.30" y2="345.6" stroke="#555" stroke-width="0.8"/>
<line x1="166.80" y1="348.0" x2="166.80" y2="345.6" stroke="#555" stroke-width="0.8"/>
<line x1="175.80" y1="348.0" x2="175.80" y2="345.6" stroke="#555" stroke-width="0.8"/>
<line x1="180.30" y1="348.0" x2="180.30" y2="345.6" stroke="#555" stroke-width="0.8"/>
<line x1="184.80" y1="348.0" x2="184.80" y2="345.6" stroke="#555" stroke-width="0.8"/>
<line x1="189.30" y1="348.0" x2="189.30" y2="345.6" stroke="#555" stroke-width="0.8"/>
<line x1="198.30" y1="348.0" x2="198.30" y2="345.6" stroke="#555" stroke-width="0.8"/>
<line x1="202.80" y1="348.0" x2="202.80" y2="345.6" stroke="#555" stroke-width="0.8"/>
<line x1="207.30" y1="348.0" x2="207.30" y2="345.6" stroke="#555" stroke-width="0.8"/>
<line x1="211.80" y1="348.0" x2="211.80" y2="345.6" stroke="#555" stroke-width="0.8"/>
<text transform="translate(36.30,359.0) scale(0.89,1)" text-anchor="middle" font-size="8.2">0</text>
<text transform="translate(58.80,359.0) scale(0.89,1)" text-anchor="middle" font-size="8.2">1</text>
<text transform="translate(81.30,359.0) scale(0.89,1)" text-anchor="middle" font-size="8.2">2</text>
<text transform="translate(103.80,359.0) scale(0.89,1)" text-anchor="middle" font-size="8.2">3</text>
<text transform="translate(126.30,359.0) scale(0.89,1)" text-anchor="middle" font-size="8.2">4</text>
<text transform="translate(148.80,359.0) scale(0.89,1)" text-anchor="middle" font-size="8.2">5</text>
<text transform="translate(171.30,359.0) scale(0.89,1)" text-anchor="middle" font-size="8.2">6</text>
<text transform="translate(193.80,359.0) scale(0.89,1)" text-anchor="middle" font-size="8.2">7</text>
<text transform="translate(216.30,359.0) scale(0.89,1)" text-anchor="middle" font-size="8.2">8</text>
<text transform="translate(4.0,201.89999999999998) scale(0.86,1)" font-size="10.4" font-weight="bold">c</text>
<text transform="translate(11.1,320.8) rotate(-90) scale(1,0.92)" font-size="7.95">Serum SGN-40 (µg ml<tspan font-size="5.2" dx="0.9" dy="-3.4">-1</tspan><tspan dx="0.7" dy="3.4">)</tspan></text>
<text transform="translate(110.6,370.9) scale(0.91,1)" font-size="8.4">Time, day</text>
<circle cx="155" cy="204.2" r="2.95" fill="#000"/>
<rect x="152.00" y="215.40" width="6.0" height="6.0" fill="#000"/>
<text transform="translate(160.9,207.2) scale(0.915,1)" font-size="8.8">1 mg kg<tspan font-size="4.8" dx="0.6" dy="-3.4">-1</tspan></text>
<text transform="translate(160.9,220.4) scale(0.915,1)" font-size="8.8">10 mg kg<tspan font-size="4.8" dx="0.6" dy="-3.4">-1</tspan></text>
<polyline points="37.00,223.00 40.20,223.70 44.30,226.40 59.00,231.00 104.40,236.10 194.50,241.50" fill="none" stroke="#000" stroke-width="1.2" stroke-linejoin="round"/>
<rect x="34.60" y="220.80" width="4.8" height="4.8" fill="#000"/>
<rect x="37.80" y="221.20" width="4.8" height="4.8" fill="#000"/>
<rect x="39.90" y="222.40" width="4.8" height="4.8" fill="#000"/>
<circle cx="44.3" cy="226.8" r="2.7" fill="#000"/>
<circle cx="59.0" cy="231.1" r="2.6" fill="#000"/>
<rect x="102.10" y="233.70" width="4.6" height="4.6" fill="#000"/>
<rect x="192.20" y="239.20" width="4.6" height="4.6" fill="#000"/>
<polyline points="37.20,253.60 38.60,256.00 40.30,258.20 44.00,261.10 59.00,267.80 104.40,282.10 194.00,320.70" fill="none" stroke="#000" stroke-width="1.2" stroke-linejoin="round"/>
<circle cx="37.2" cy="253.8" r="2.4" fill="#000"/>
<circle cx="38.6" cy="256.2" r="2.4" fill="#000"/>
<circle cx="40.4" cy="258.2" r="2.4" fill="#000"/>
<circle cx="44" cy="261.1" r="2.4" fill="#000"/>
<circle cx="59" cy="268" r="2.4" fill="#000"/>
<circle cx="104.4" cy="282.1" r="2.3" fill="#000"/>
<line x1="104.4" y1="278.4" x2="104.4" y2="286.9" stroke="#000" stroke-width="0.9"/>
<line x1="103.2" y1="278.4" x2="105.60000000000001" y2="278.4" stroke="#000" stroke-width="0.9"/>
<line x1="103.2" y1="286.9" x2="105.60000000000001" y2="286.9" stroke="#000" stroke-width="0.9"/>
<circle cx="194" cy="320.7" r="2.5" fill="#000"/>
<line x1="194" y1="314.2" x2="194" y2="331.6" stroke="#7a7a7a" stroke-width="1.1"/>
<line x1="192.6" y1="314.2" x2="195.4" y2="314.2" stroke="#7a7a7a" stroke-width="1.1"/>
<line x1="192.6" y1="331.6" x2="195.4" y2="331.6" stroke="#7a7a7a" stroke-width="1.1"/>
<line x1="267.5" y1="198.9" x2="267.5" y2="350.7" stroke="#333" stroke-width="1"/>
<line x1="267.5" y1="199.4" x2="270.8" y2="199.4" stroke="#333" stroke-width="1"/>
<line x1="267.5" y1="237.05" x2="270.8" y2="237.05" stroke="#333" stroke-width="1"/>
<line x1="267.5" y1="274.7" x2="270.8" y2="274.7" stroke="#333" stroke-width="1"/>
<line x1="267.5" y1="312.35" x2="270.8" y2="312.35" stroke="#333" stroke-width="1"/>
<line x1="267.5" y1="338.67" x2="269.9" y2="338.67" stroke="#555" stroke-width="0.8"/>
<line x1="267.5" y1="332.04" x2="269.9" y2="332.04" stroke="#555" stroke-width="0.8"/>
<line x1="267.5" y1="327.33" x2="269.9" y2="327.33" stroke="#555" stroke-width="0.8"/>
<line x1="267.5" y1="323.68" x2="269.9" y2="323.68" stroke="#555" stroke-width="0.8"/>
<line x1="267.5" y1="320.70" x2="269.9" y2="320.70" stroke="#555" stroke-width="0.8"/>
<line x1="267.5" y1="318.18" x2="269.9" y2="318.18" stroke="#555" stroke-width="0.8"/>
<line x1="267.5" y1="316.00" x2="269.9" y2="316.00" stroke="#555" stroke-width="0.8"/>
<line x1="267.5" y1="314.07" x2="269.9" y2="314.07" stroke="#555" stroke-width="0.8"/>
<line x1="267.5" y1="301.02" x2="269.9" y2="301.02" stroke="#555" stroke-width="0.8"/>
<line x1="267.5" y1="294.39" x2="269.9" y2="294.39" stroke="#555" stroke-width="0.8"/>
<line x1="267.5" y1="289.68" x2="269.9" y2="289.68" stroke="#555" stroke-width="0.8"/>
<line x1="267.5" y1="286.03" x2="269.9" y2="286.03" stroke="#555" stroke-width="0.8"/>
<line x1="267.5" y1="283.05" x2="269.9" y2="283.05" stroke="#555" stroke-width="0.8"/>
<line x1="267.5" y1="280.53" x2="269.9" y2="280.53" stroke="#555" stroke-width="0.8"/>
<line x1="267.5" y1="278.35" x2="269.9" y2="278.35" stroke="#555" stroke-width="0.8"/>
<line x1="267.5" y1="276.42" x2="269.9" y2="276.42" stroke="#555" stroke-width="0.8"/>
<line x1="267.5" y1="263.37" x2="269.9" y2="263.37" stroke="#555" stroke-width="0.8"/>
<line x1="267.5" y1="256.74" x2="269.9" y2="256.74" stroke="#555" stroke-width="0.8"/>
<line x1="267.5" y1="252.03" x2="269.9" y2="252.03" stroke="#555" stroke-width="0.8"/>
<line x1="267.5" y1="248.38" x2="269.9" y2="248.38" stroke="#555" stroke-width="0.8"/>
<line x1="267.5" y1="245.40" x2="269.9" y2="245.40" stroke="#555" stroke-width="0.8"/>
<line x1="267.5" y1="242.88" x2="269.9" y2="242.88" stroke="#555" stroke-width="0.8"/>
<line x1="267.5" y1="240.70" x2="269.9" y2="240.70" stroke="#555" stroke-width="0.8"/>
<line x1="267.5" y1="238.77" x2="269.9" y2="238.77" stroke="#555" stroke-width="0.8"/>
<line x1="267.5" y1="225.72" x2="269.9" y2="225.72" stroke="#555" stroke-width="0.8"/>
<line x1="267.5" y1="219.09" x2="269.9" y2="219.09" stroke="#555" stroke-width="0.8"/>
<line x1="267.5" y1="214.38" x2="269.9" y2="214.38" stroke="#555" stroke-width="0.8"/>
<line x1="267.5" y1="210.73" x2="269.9" y2="210.73" stroke="#555" stroke-width="0.8"/>
<line x1="267.5" y1="207.75" x2="269.9" y2="207.75" stroke="#555" stroke-width="0.8"/>
<line x1="267.5" y1="205.23" x2="269.9" y2="205.23" stroke="#555" stroke-width="0.8"/>
<line x1="267.5" y1="203.05" x2="269.9" y2="203.05" stroke="#555" stroke-width="0.8"/>
<line x1="267.5" y1="201.12" x2="269.9" y2="201.12" stroke="#555" stroke-width="0.8"/>
<text transform="translate(262.20000000000005,202.55) scale(0.89,1)" text-anchor="end" font-size="8.2">1000</text>
<text transform="translate(262.6,240.20) scale(0.89,1)" text-anchor="end" font-size="8.2">100</text>
<text transform="translate(262.6,277.85) scale(0.89,1)" text-anchor="end" font-size="8.2">10</text>
<text transform="translate(261.40000000000003,315.50) scale(0.89,1)" text-anchor="end" font-size="8.2">1</text>
<text transform="translate(261.40000000000003,353.15) scale(0.89,1)" text-anchor="end" font-size="8.2">0.1</text>
<line x1="267.0" y1="350.2" x2="446" y2="350.2" stroke="#333" stroke-width="1"/>
<line x1="267.50" y1="350.2" x2="267.50" y2="346.9" stroke="#333" stroke-width="1"/>
<line x1="288.40" y1="350.2" x2="288.40" y2="346.9" stroke="#333" stroke-width="1"/>
<line x1="309.30" y1="350.2" x2="309.30" y2="346.9" stroke="#333" stroke-width="1"/>
<line x1="330.20" y1="350.2" x2="330.20" y2="346.9" stroke="#333" stroke-width="1"/>
<line x1="351.10" y1="350.2" x2="351.10" y2="346.9" stroke="#333" stroke-width="1"/>
<line x1="372.00" y1="350.2" x2="372.00" y2="346.9" stroke="#333" stroke-width="1"/>
<line x1="392.90" y1="350.2" x2="392.90" y2="346.9" stroke="#333" stroke-width="1"/>
<line x1="413.80" y1="350.2" x2="413.80" y2="346.9" stroke="#333" stroke-width="1"/>
<line x1="434.70" y1="350.2" x2="434.70" y2="346.9" stroke="#333" stroke-width="1"/>
<line x1="271.68" y1="350.2" x2="271.68" y2="347.8" stroke="#555" stroke-width="0.8"/>
<line x1="275.86" y1="350.2" x2="275.86" y2="347.8" stroke="#555" stroke-width="0.8"/>
<line x1="280.04" y1="350.2" x2="280.04" y2="347.8" stroke="#555" stroke-width="0.8"/>
<line x1="284.22" y1="350.2" x2="284.22" y2="347.8" stroke="#555" stroke-width="0.8"/>
<line x1="292.58" y1="350.2" x2="292.58" y2="347.8" stroke="#555" stroke-width="0.8"/>
<line x1="296.76" y1="350.2" x2="296.76" y2="347.8" stroke="#555" stroke-width="0.8"/>
<line x1="300.94" y1="350.2" x2="300.94" y2="347.8" stroke="#555" stroke-width="0.8"/>
<line x1="305.12" y1="350.2" x2="305.12" y2="347.8" stroke="#555" stroke-width="0.8"/>
<line x1="313.48" y1="350.2" x2="313.48" y2="347.8" stroke="#555" stroke-width="0.8"/>
<line x1="317.66" y1="350.2" x2="317.66" y2="347.8" stroke="#555" stroke-width="0.8"/>
<line x1="321.84" y1="350.2" x2="321.84" y2="347.8" stroke="#555" stroke-width="0.8"/>
<line x1="326.02" y1="350.2" x2="326.02" y2="347.8" stroke="#555" stroke-width="0.8"/>
<line x1="334.38" y1="350.2" x2="334.38" y2="347.8" stroke="#555" stroke-width="0.8"/>
<line x1="338.56" y1="350.2" x2="338.56" y2="347.8" stroke="#555" stroke-width="0.8"/>
<line x1="342.74" y1="350.2" x2="342.74" y2="347.8" stroke="#555" stroke-width="0.8"/>
<line x1="346.92" y1="350.2" x2="346.92" y2="347.8" stroke="#555" stroke-width="0.8"/>
<line x1="355.28" y1="350.2" x2="355.28" y2="347.8" stroke="#555" stroke-width="0.8"/>
<line x1="359.46" y1="350.2" x2="359.46" y2="347.8" stroke="#555" stroke-width="0.8"/>
<line x1="363.64" y1="350.2" x2="363.64" y2="347.8" stroke="#555" stroke-width="0.8"/>
<line x1="367.82" y1="350.2" x2="367.82" y2="347.8" stroke="#555" stroke-width="0.8"/>
<line x1="376.18" y1="350.2" x2="376.18" y2="347.8" stroke="#555" stroke-width="0.8"/>
<line x1="380.36" y1="350.2" x2="380.36" y2="347.8" stroke="#555" stroke-width="0.8"/>
<line x1="384.54" y1="350.2" x2="384.54" y2="347.8" stroke="#555" stroke-width="0.8"/>
<line x1="388.72" y1="350.2" x2="388.72" y2="347.8" stroke="#555" stroke-width="0.8"/>
<line x1="397.08" y1="350.2" x2="397.08" y2="347.8" stroke="#555" stroke-width="0.8"/>
<line x1="401.26" y1="350.2" x2="401.26" y2="347.8" stroke="#555" stroke-width="0.8"/>
<line x1="405.44" y1="350.2" x2="405.44" y2="347.8" stroke="#555" stroke-width="0.8"/>
<line x1="409.62" y1="350.2" x2="409.62" y2="347.8" stroke="#555" stroke-width="0.8"/>
<line x1="417.98" y1="350.2" x2="417.98" y2="347.8" stroke="#555" stroke-width="0.8"/>
<line x1="422.16" y1="350.2" x2="422.16" y2="347.8" stroke="#555" stroke-width="0.8"/>
<line x1="426.34" y1="350.2" x2="426.34" y2="347.8" stroke="#555" stroke-width="0.8"/>
<line x1="430.52" y1="350.2" x2="430.52" y2="347.8" stroke="#555" stroke-width="0.8"/>
<line x1="438.88" y1="350.2" x2="438.88" y2="347.8" stroke="#555" stroke-width="0.8"/>
<line x1="443.06" y1="350.2" x2="443.06" y2="347.8" stroke="#555" stroke-width="0.8"/>
<text transform="translate(267.50,361.2) scale(0.89,1)" text-anchor="middle" font-size="8.2">0</text>
<text transform="translate(288.40,361.2) scale(0.89,1)" text-anchor="middle" font-size="8.2">1</text>
<text transform="translate(309.30,361.2) scale(0.89,1)" text-anchor="middle" font-size="8.2">2</text>
<text transform="translate(330.20,361.2) scale(0.89,1)" text-anchor="middle" font-size="8.2">3</text>
<text transform="translate(351.10,361.2) scale(0.89,1)" text-anchor="middle" font-size="8.2">4</text>
<text transform="translate(372.00,361.2) scale(0.89,1)" text-anchor="middle" font-size="8.2">5</text>
<text transform="translate(392.90,361.2) scale(0.89,1)" text-anchor="middle" font-size="8.2">6</text>
<text transform="translate(413.80,361.2) scale(0.89,1)" text-anchor="middle" font-size="8.2">7</text>
<text transform="translate(434.70,361.2) scale(0.89,1)" text-anchor="middle" font-size="8.2">8</text>
<text transform="translate(232.6,201.7) scale(0.86,1)" font-size="10.4" font-weight="bold">d</text>
<text transform="translate(240.4,320.2) rotate(-90) scale(1,0.92)" font-size="7.95">Serum SGN-40 (µg ml<tspan font-size="5.2" dx="0.9" dy="-3.4">-1</tspan><tspan dx="0.7" dy="3.4">)</tspan></text>
<text transform="translate(340.6,370.5) scale(0.91,1)" font-size="8.4">Time, day</text>
<circle cx="387" cy="199.8" r="2.95" fill="#000"/>
<rect x="384.00" y="207.50" width="6.0" height="6.0" fill="#000"/>
<text transform="translate(393.6,202.8) scale(0.915,1)" font-size="8.8">1 mg kg<tspan font-size="4.8" dx="0.6" dy="-3.4">-1</tspan></text>
<text transform="translate(393.6,213.4) scale(0.915,1)" font-size="8.8">10 mg kg<tspan font-size="4.8" dx="0.6" dy="-3.4">-1</tspan></text>
<polyline points="267.80,246.40 269.60,221.80 288.60,224.30 351.50,225.80 435.30,228.10" fill="none" stroke="#000" stroke-width="1.2" stroke-linejoin="round"/>
<rect x="265.40" y="244.00" width="4.8" height="4.8" fill="#000"/>
<rect x="267.10" y="219.30" width="5" height="5" fill="#000"/>
<rect x="286.10" y="221.80" width="5" height="5" fill="#000"/>
<rect x="349.00" y="223.30" width="5" height="5" fill="#000"/>
<rect x="432.80" y="225.60" width="5" height="5" fill="#000"/>
<line x1="269.6" y1="215.0" x2="269.6" y2="221.8" stroke="#000" stroke-width="0.9"/>
<line x1="268.40000000000003" y1="215.0" x2="270.8" y2="215.0" stroke="#000" stroke-width="0.9"/>
<line x1="268.40000000000003" y1="221.8" x2="270.8" y2="221.8" stroke="#000" stroke-width="0.9"/>
<line x1="288.6" y1="217" x2="288.6" y2="233.4" stroke="#333" stroke-width="0.9"/>
<line x1="287.3" y1="217" x2="289.90000000000003" y2="217" stroke="#333" stroke-width="0.9"/>
<line x1="287.3" y1="233.4" x2="289.90000000000003" y2="233.4" stroke="#333" stroke-width="0.9"/>
<line x1="351.5" y1="219.1" x2="351.5" y2="236.8" stroke="#333" stroke-width="0.9"/>
<line x1="350.2" y1="219.1" x2="352.8" y2="219.1" stroke="#333" stroke-width="0.9"/>
<line x1="350.2" y1="236.8" x2="352.8" y2="236.8" stroke="#333" stroke-width="0.9"/>
<line x1="435.5" y1="220" x2="435.5" y2="242.1" stroke="#333" stroke-width="0.9"/>
<line x1="434.2" y1="220" x2="436.8" y2="220" stroke="#333" stroke-width="0.9"/>
<line x1="434.2" y1="242.1" x2="436.8" y2="242.1" stroke="#333" stroke-width="0.9"/>
<polyline points="267.60,317.10 269.40,270.80 288.60,278.80 351.60,286.50 435.00,290.80" fill="none" stroke="#000" stroke-width="1.2" stroke-linejoin="round"/>
<circle cx="267.6" cy="317.1" r="2.1" fill="#000"/>
<circle cx="269.4" cy="270.8" r="2.4" fill="#000"/>
<circle cx="288.6" cy="278.8" r="2.4" fill="#000"/>
<circle cx="351.6" cy="286.5" r="2.3" fill="#000"/>
<circle cx="435" cy="290.8" r="2.3" fill="#000"/>
<line x1="269.4" y1="262.7" x2="269.4" y2="270.8" stroke="#888" stroke-width="0.9"/>
<line x1="268.2" y1="262.7" x2="270.59999999999997" y2="262.7" stroke="#888" stroke-width="0.9"/>
<line x1="268.2" y1="270.8" x2="270.59999999999997" y2="270.8" stroke="#888" stroke-width="0.9"/>
<line x1="288.5" y1="265.4" x2="288.5" y2="350.2" stroke="#555" stroke-width="0.9"/>
<line x1="287.3" y1="265.4" x2="289.7" y2="265.4" stroke="#555" stroke-width="0.9"/>
<line x1="287.3" y1="350.2" x2="289.7" y2="350.2" stroke="#555" stroke-width="0.9"/>
<line x1="351.5" y1="270.7" x2="351.5" y2="350.2" stroke="#555" stroke-width="0.9"/>
<line x1="350.3" y1="270.7" x2="352.7" y2="270.7" stroke="#555" stroke-width="0.9"/>
<line x1="350.3" y1="350.2" x2="352.7" y2="350.2" stroke="#555" stroke-width="0.9"/>
<line x1="435.5" y1="273" x2="435.5" y2="350.2" stroke="#555" stroke-width="0.9"/>
<line x1="434.3" y1="273" x2="436.7" y2="273" stroke="#555" stroke-width="0.9"/>
<line x1="434.3" y1="350.2" x2="436.7" y2="350.2" stroke="#555" stroke-width="0.9"/>
</svg>
</body></html>
